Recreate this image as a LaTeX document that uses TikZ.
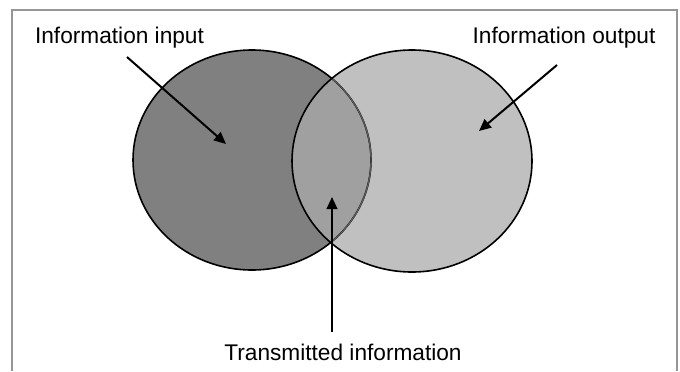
\documentclass[tikz,border=0pt]{standalone}
\usepackage{fontspec}
\setmainfont{Liberation Sans}
\usetikzlibrary{arrows.meta}
\definecolor{inputgray}{RGB}{128,128,128}
\definecolor{outputgray}{RGB}{192,192,192}
\definecolor{overlapgray}{RGB}{160,160,160}
\definecolor{framegray}{RGB}{150,150,150}
\tikzset{
  label text/.style={font=\fontsize{17}{20}\selectfont, inner sep=0pt},
  pointer/.style={line width=1.5pt, -{Triangle[length=9pt,width=8pt]}},
}
\begin{document}
\begin{tikzpicture}[x=0.75pt,y=0.75pt,yscale=-1,xscale=1]
\useasboundingbox (0,0) rectangle (680,371);
%Frame
\draw [color=framegray, line width=1.2pt] (12,371) -- (12,10) -- (677,10) -- (677,371) ;
%Circles filled
\fill [inputgray] (252,160) ellipse [x radius=119, y radius=110] ;
\fill [outputgray] (412,161) ellipse [x radius=120, y radius=111] ;
\begin{scope}
\clip (252,160) ellipse [x radius=119, y radius=110] ;
\fill [overlapgray] (412,161) ellipse [x radius=120, y radius=111] ;
\end{scope}
%Circle outlines
\draw [line width=1.2pt] (252,160) ellipse [x radius=119, y radius=110] ;
\begin{scope}
\clip (412,161) ellipse [x radius=120, y radius=111] ;
\draw [color=inputgray!70!black, line width=1pt] (252,160) ellipse [x radius=119, y radius=110] ;
\end{scope}
\draw [line width=1.2pt] (412,161) ellipse [x radius=120, y radius=111] ;
%Labels
\node [label text, anchor=base] (input) at (119.5,43) {Information input};
\node [label text, anchor=base] (output) at (564,43) {Information output};
\node [label text, anchor=base] (transmitted) at (343,360) {Transmitted information};
%Arrow ends
\coordinate (inputtail) at (127,57);
\coordinate (inputhead) at (226,144);
\coordinate (outputtail) at (557,65);
\coordinate (outputhead) at (479,131);
\coordinate (transtail) at (332,332);
\coordinate (transhead) at (332,197);
%Arrows
\draw [pointer] (inputtail) -- (inputhead) ;
\draw [pointer] (outputtail) -- (outputhead) ;
\draw [pointer] (transtail) -- (transhead) ;
\end{tikzpicture}
\end{document}
